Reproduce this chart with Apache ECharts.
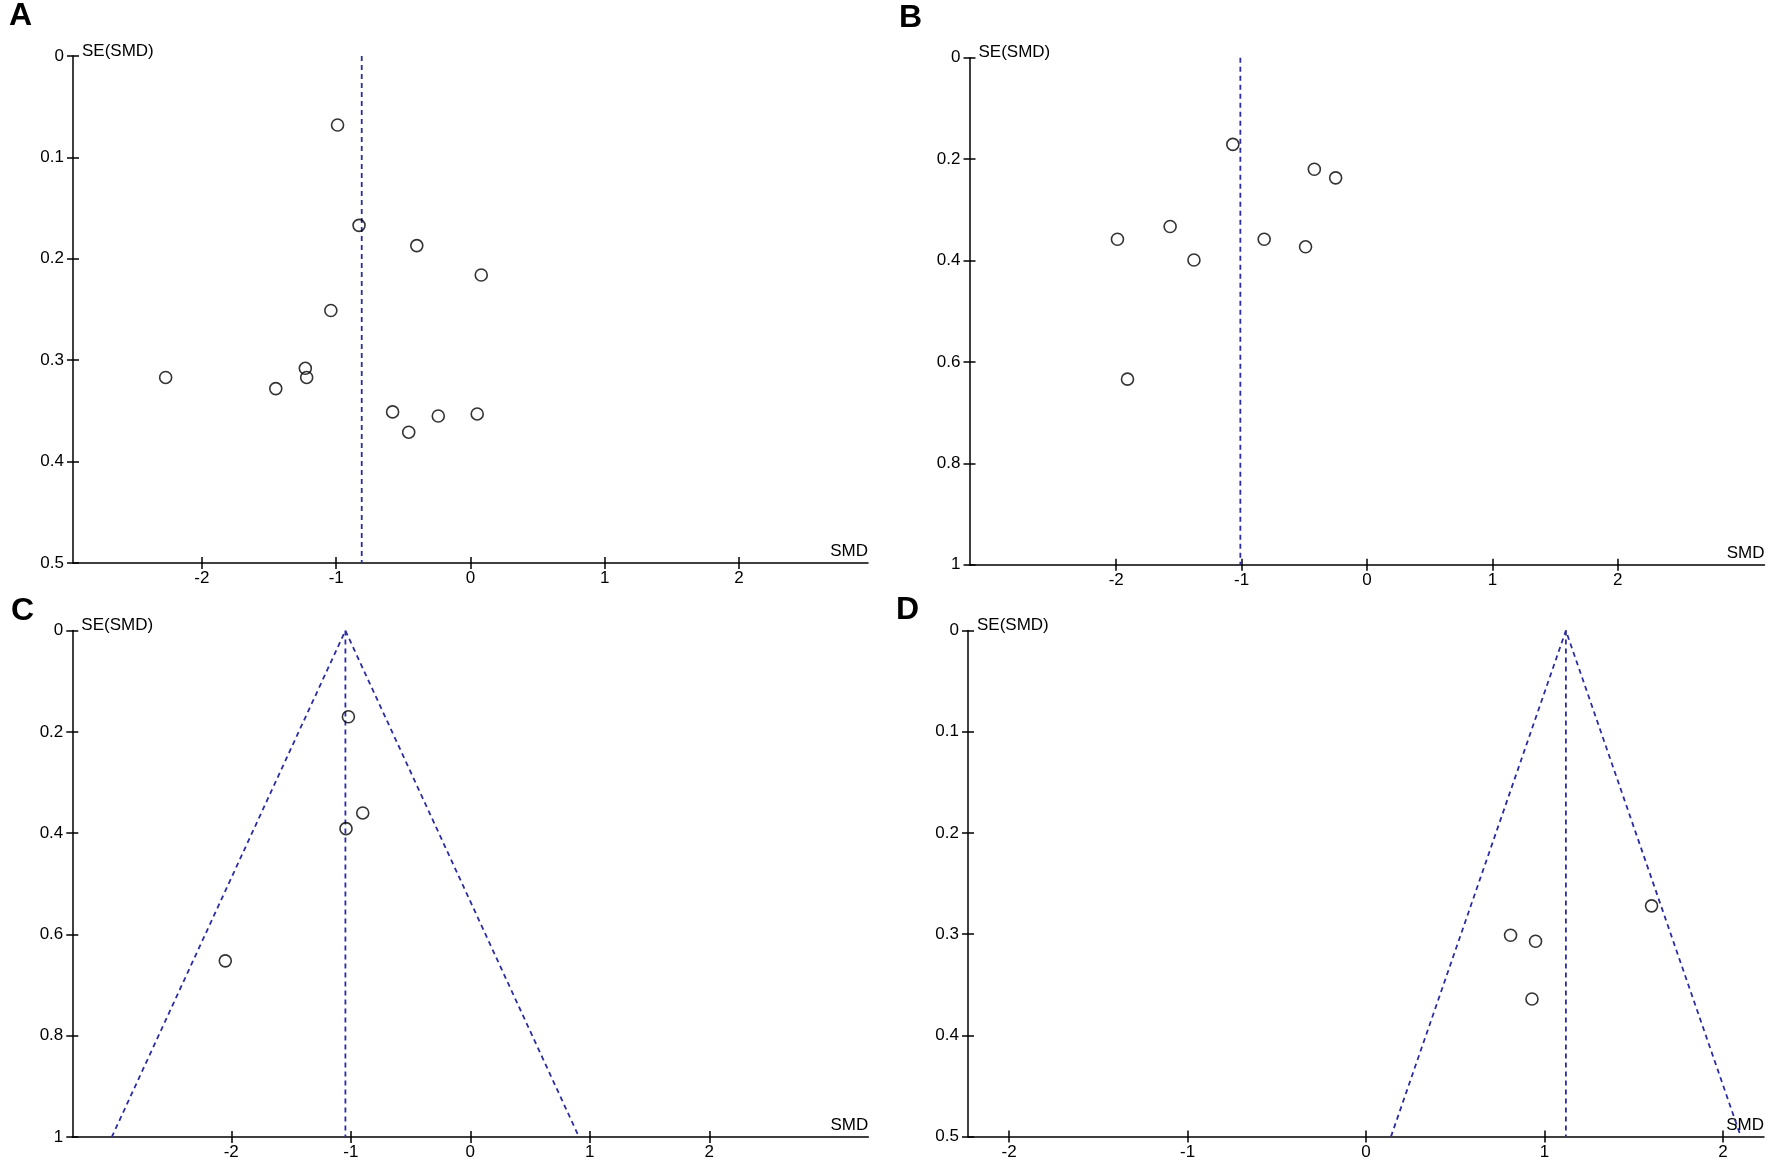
<!DOCTYPE html>
<html>
<head>
<meta charset="utf-8">
<title>Funnel plots</title>
<script src="https://cdn.jsdelivr.net/npm/echarts@6/dist/echarts.min.js"></script>
<style>
html, body { margin: 0; padding: 0; background: #fff; }
#main { width: 1772px; height: 1168px; }
</style>
</head>
<body>
<div id="main"></div>
<script type="text/javascript">
// panel A
var smdA = [-0.99, -0.83, -0.40, 0.08, -1.04, -1.23, -1.22, -2.27, -1.45, -0.58, -0.24, 0.05, -0.46];
var seA = [0.068, 0.167, 0.187, 0.216, 0.251, 0.308, 0.317, 0.317, 0.328, 0.351, 0.355, 0.353, 0.371];
var pooledA = -0.81;
// panel B
var smdB = [-1.07, -0.42, -0.25, -1.57, -1.99, -0.82, -0.49, -1.38, -1.91];
var seB = [0.171, 0.220, 0.237, 0.333, 0.358, 0.358, 0.373, 0.399, 0.634];
var pooledB = -1.01;
// panel C
var smdC = [-1.02, -0.90, -1.04, -2.05];
var seC = [0.170, 0.360, 0.391, 0.652];
var pooledC = -1.045;
var funnelXC = [-3.00, -1.045, 0.91];
var funnelYC = [1, 0, 1];
// panel D
var smdD = [1.60, 0.81, 0.95, 0.93];
var seD = [0.272, 0.301, 0.307, 0.364];
var pooledD = 1.12;
var funnelXD = [0.14, 1.12, 2.10];
var funnelYD = [0.5, 0, 0.5];

// axes
var xTicks = [-2, -1, 0, 1, 2];
var xLimit = [2.96, 3.17, 3.33, 2.23];
var yMax = [0.5, 1, 1, 0.5];
var yStep = [0.1, 0.2, 0.2, 0.1];
var letters = ['A', 'B', 'C', 'D'];

var font = 'Liberation Sans, Arial, sans-serif';
var blue = '#2b2ba6';

var grids = [
	{left: 73, top: 56, width: 795, height: 507},
	{left: 969.5, top: 57.7, width: 795, height: 507},
	{left: 72.3, top: 630.6, width: 796, height: 506.5},
	{left: 968, top: 630.6, width: 796, height: 506}
];
var letterPos = [[9, 0], [899, 2], [11, 595], [896, 594]];

var pts = [[smdA, seA], [smdB, seB], [smdC, seC], [smdD, seD]];
var pooled = [pooledA, pooledB, pooledC, pooledD];
var funnels = [null, null, [funnelXC, funnelYC], [funnelXD, funnelYD]];

var xAxes = [], yAxes = [], series = [], titles = [];
for (var i = 0; i < 4; i++) {
	var base = {
		gridIndex: i, type: 'value', min: -xLimit[i], max: xLimit[i],
		splitLine: {show: false}
	};
	// main x axis
	xAxes.push(Object.assign({}, base, {
		position: 'bottom',
		name: 'SMD', nameLocation: 'end', nameGap: 0,
		nameTextStyle: {color: '#000', fontFamily: font, fontSize: 17, align: 'right', verticalAlign: 'bottom', padding: [0, 0, 3, 0]},
		axisLine: {onZero: false, lineStyle: {color: '#000', width: 1.5}},
		axisTick: {length: 6, customValues: xTicks, lineStyle: {color: '#000', width: 1.5}},
		axisLabel: {customValues: xTicks, margin: 7, color: '#000', fontFamily: font, fontSize: 17}
	}));
	// inner tick half
	xAxes.push(Object.assign({}, base, {
		position: 'bottom',
		axisLine: {show: false, onZero: false},
		axisTick: {inside: true, length: 6, customValues: xTicks, lineStyle: {color: '#000', width: 1.5}},
		axisLabel: {show: false}
	}));
	var ybase = {
		gridIndex: i, type: 'value', inverse: true, min: 0, max: yMax[i], interval: yStep[i],
		position: 'left', splitLine: {show: false}
	};
	yAxes.push(Object.assign({}, ybase, {
		name: 'SE(SMD)', nameLocation: 'start', nameGap: 5,
		nameTextStyle: {color: '#000', fontFamily: font, fontSize: 17, align: 'left', verticalAlign: 'middle', padding: [0, 0, 0, 9]},
		axisLine: {onZero: false, lineStyle: {color: '#000', width: 1.5}},
		axisTick: {length: 6, lineStyle: {color: '#000', width: 1.5}},
		axisLabel: {margin: 9, padding: [8, 0, 0, 0], color: '#000', fontFamily: font, fontSize: 17}
	}));
	yAxes.push(Object.assign({}, ybase, {
		axisLine: {show: false, onZero: false},
		axisTick: {inside: true, length: 6, lineStyle: {color: '#000', width: 1.5}},
		axisLabel: {show: false}
	}));

	var data = pts[i][0].map(function (x, k) { return [x, pts[i][1][k]]; });
	series.push({
		type: 'scatter', xAxisIndex: i * 2, yAxisIndex: i * 2,
		symbol: 'circle', symbolSize: 12,
		itemStyle: {color: 'rgba(0,0,0,0)', borderColor: '#000', borderWidth: 1.6},
		data: data, z: 3
	});
	series.push({
		type: 'line', xAxisIndex: i * 2, yAxisIndex: i * 2,
		showSymbol: false, silent: true,
		lineStyle: {color: blue, width: 1.8, type: [5, 4]},
		data: [[pooled[i], 0], [pooled[i], yMax[i]]], z: 2
	});
	if (funnels[i]) {
		var f = funnels[i];
		series.push({
			type: 'line', xAxisIndex: i * 2, yAxisIndex: i * 2,
			showSymbol: false, silent: true,
			lineStyle: {color: blue, width: 1.8, type: [5, 4]},
			data: f[0].map(function (x, k) { return [x, f[1][k]]; }), z: 2
		});
	}
	titles.push({
		text: letters[i], left: letterPos[i][0], top: letterPos[i][1], padding: 0,
		textStyle: {fontFamily: font, fontSize: 32, fontWeight: 'bold', color: '#000'}
	});
}

var myChart = echarts.init(document.getElementById('main'));
myChart.setOption({
	animation: false,
	backgroundColor: '#fff',
	title: titles,
	grid: grids,
	xAxis: xAxes,
	yAxis: yAxes,
	series: series
});
</script>
</body>
</html>
